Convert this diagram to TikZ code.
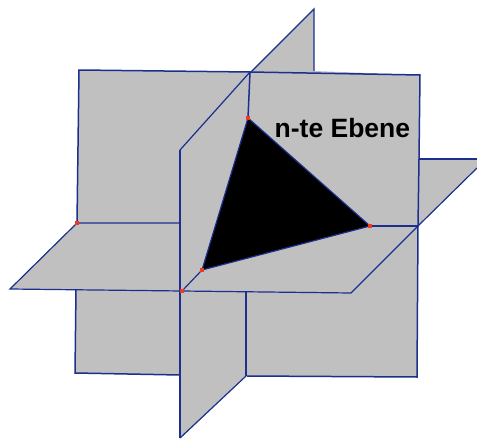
\documentclass[tikz,border=0pt]{standalone}
\usepackage{fontspec}
\setmainfont{Liberation Sans}
\definecolor{planegrey}{HTML}{C0C0C0}
\definecolor{edgeblue}{HTML}{1C2F8F}
\definecolor{dotred}{HTML}{F03A20}
\tikzset{
  plane/.style={fill=planegrey,draw=none},
  edge/.style={draw=edgeblue,line width=1.5pt,line join=miter},
  thin edge/.style={draw=edgeblue,line width=1.2pt},
  dotmark/.style={fill=dotred,draw=none},
}
\begin{document}
\begin{tikzpicture}[x=1pt,y=-1pt]
\useasboundingbox (0,0) rectangle (477,439);
% grey surfaces
\fill[plane] (79,70) -- (250,72) -- (314,9) -- (314,71) -- (420,75) -- (419,159) -- (477,159) -- (477,168) -- (418,226) -- (417,377) -- (246,376) -- (181,438) -- (181,375) -- (75,373) -- (76,289) -- (10,289) -- (77,223) -- cycle;
% vertical plate, upper part
\draw[thin edge] (250,73) -- (314,9) -- (314,71);
% back square
\draw[edge] (77,223) -- (79,70) -- (250,72) -- (420,75) -- (419,159) -- (418,226) -- (417,377) -- (247,376) (180,375) -- (75,373) -- (76,289);
% horizontal plate
\draw[edge] (419,159) -- (477,159);
\draw[thin edge] (477,168) -- (418,226) -- (351,293) -- (182,291) -- (10,289) -- (77,223) -- (180,223);
\draw[edge] (370,226) -- (418,226);
% vertical plate
\draw[thin edge] (250,72) -- (180,150);
\draw[edge] (180,150) -- (180,438);
\draw[thin edge] (180,438) -- (246,376);
\draw[edge] (246,292) -- (246,376);
\draw[edge] (250,72) -- (248,118);
\draw[thin edge] (182,291) -- (202,270);
% triangle
\coordinate (ta) at (248,118);
\coordinate (tb) at (370,226);
\coordinate (tc) at (202,270);
\draw[fill=black,draw=edgeblue,line width=1.2pt] (ta) -- (tb) -- (tc) -- cycle;
% vertex marks
\foreach \p in {(ta),(tb),(tc),(77,223),(182,291)}
  \fill[dotmark] \p ++(-2,-2) rectangle ++(4,4);
\node[anchor=base west,inner sep=0pt,font=\fontsize{26.5}{29}\selectfont\bfseries,text=black] (lbl) at (274.5,137.5) {n-te Ebene};
\end{tikzpicture}
\end{document}
